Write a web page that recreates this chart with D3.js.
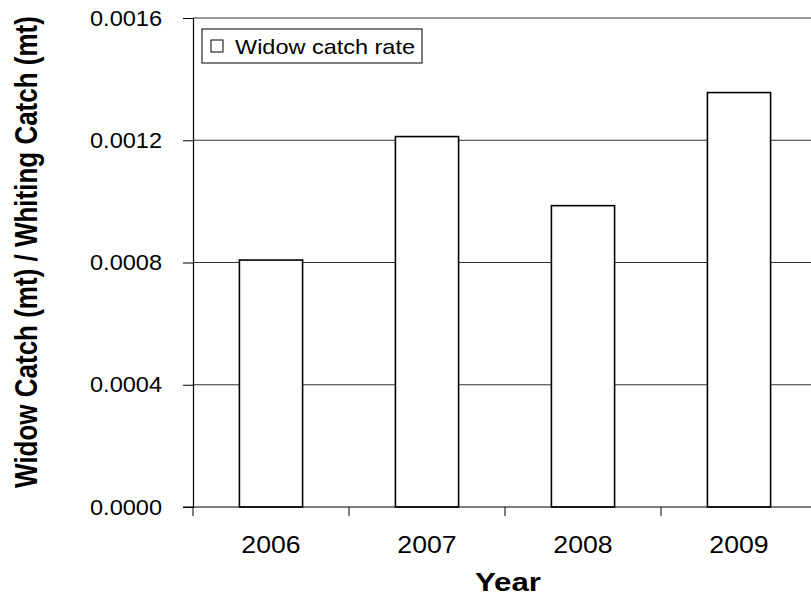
<!DOCTYPE html>
<html>
<head>
<meta charset="utf-8">
<script src="https://cdn.jsdelivr.net/npm/d3@7"></script>
<style>
  body { margin: 0; background: #fff; }
  text { font-family: "Liberation Sans", Arial, sans-serif; }
</style>
</head>
<body>
<div id="chart"></div>
<script>
var years = ["2006", "2007", "2008", "2009"];
var catchRate = [0.000808, 0.001212, 0.000986, 0.001356];
var yTicks = [0, 0.0004, 0.0008, 0.0012, 0.0016];
var seriesName = "Widow catch rate";

var width = 811, height = 597;
var margin = { top: 18, left: 193, bottom: 90 };
var plotRight = 817; // plot runs off the right edge

var svg = d3.select("#chart").append("svg")
  .attr("width", width)
  .attr("height", height);

// the source image is a bit wider than tall, so text glyphs are stretched
function stretch(sel, k) {
  sel.each(function () {
    var w = this.getComputedTextLength();
    d3.select(this).attr("textLength", w * k).attr("lengthAdjust", "spacingAndGlyphs");
  });
}

var x = d3.scaleBand().domain(years).range([margin.left, plotRight]).padding(0);
var y = d3.scaleLinear().domain([0, 0.0016]).range([height - margin.bottom, margin.top]);

var barW = x.bandwidth() * 0.405;

// gridlines
svg.append("g")
  .selectAll("line")
  .data(yTicks.filter(function (d) { return d > 0; }))
  .enter().append("line")
  .attr("x1", margin.left).attr("x2", width)
  .attr("y1", function (d) { return y(d); })
  .attr("y2", function (d) { return y(d); })
  .attr("stroke", "#333")
  .attr("stroke-width", 1.2);

// bars
svg.append("g")
  .selectAll("rect")
  .data(catchRate)
  .enter().append("rect")
  .attr("x", function (d, i) { return x(years[i]) + (x.bandwidth() - barW) / 2; })
  .attr("width", barW)
  .attr("y", function (d) { return y(d); })
  .attr("height", function (d) { return y(0) - y(d); })
  .attr("fill", "#fff")
  .attr("stroke", "#000")
  .attr("stroke-width", 1.6);

// y axis
var yAxis = d3.axisLeft(y).tickValues(yTicks).tickSize(10).tickPadding(21)
  .tickFormat(d3.format(".4f"));
var gy = svg.append("g")
  .attr("transform", "translate(" + margin.left + ",0)")
  .call(yAxis);
gy.select(".domain").attr("stroke", "#000").attr("stroke-width", 1.2);
gy.selectAll(".tick line").attr("stroke", "#000");
gy.selectAll(".tick text")
  .attr("font-size", 22)
  .attr("fill", "#000")
  .attr("font-family", "Liberation Sans, Arial, sans-serif")
  .call(stretch, 1.07);

// x axis
var gx = svg.append("g")
  .attr("transform", "translate(0," + y(0) + ")");
gx.append("line")
  .attr("x1", margin.left - 10).attr("x2", width)
  .attr("stroke", "#000").attr("stroke-width", 1.2);
gx.selectAll(".xt")
  .data(years)
  .enter().append("line")
  .attr("class", "xt")
  .attr("x1", function (d) { return x(d); })
  .attr("x2", function (d) { return x(d); })
  .attr("y1", 0).attr("y2", 9)
  .attr("stroke", "#000");
gx.selectAll(".xl")
  .data(years)
  .enter().append("text")
  .attr("class", "xl")
  .attr("x", function (d) { return x(d) + x.bandwidth() / 2; })
  .attr("y", 46)
  .attr("text-anchor", "middle")
  .attr("font-size", 24)
  .text(function (d) { return d; })
  .call(stretch, 1.11);

// axis titles
svg.append("text")
  .attr("x", 508)
  .attr("y", 591)
  .attr("text-anchor", "middle")
  .attr("font-size", 26)
  .attr("font-weight", "bold")
  .text("Year")
  .call(stretch, 1.2);

svg.append("text")
  .attr("transform", "translate(37,252) rotate(-90) scale(1,1.2)")
  .attr("text-anchor", "middle")
  .attr("font-size", 26)
  .attr("font-weight", "bold")
  .text("Widow Catch (mt) / Whiting Catch (mt)");

// legend
var lg = svg.append("g").attr("transform", "translate(202,29)");
lg.append("rect")
  .attr("width", 220).attr("height", 34)
  .attr("fill", "#fff").attr("stroke", "#000");
lg.append("rect")
  .attr("x", 9).attr("y", 11).attr("width", 12).attr("height", 12)
  .attr("fill", "#fff").attr("stroke", "#000");
lg.append("text")
  .attr("x", 33).attr("y", 25)
  .attr("font-size", 21)
  .attr("textLength", 180)
  .attr("lengthAdjust", "spacingAndGlyphs")
  .text(seriesName);
</script>
</body>
</html>
